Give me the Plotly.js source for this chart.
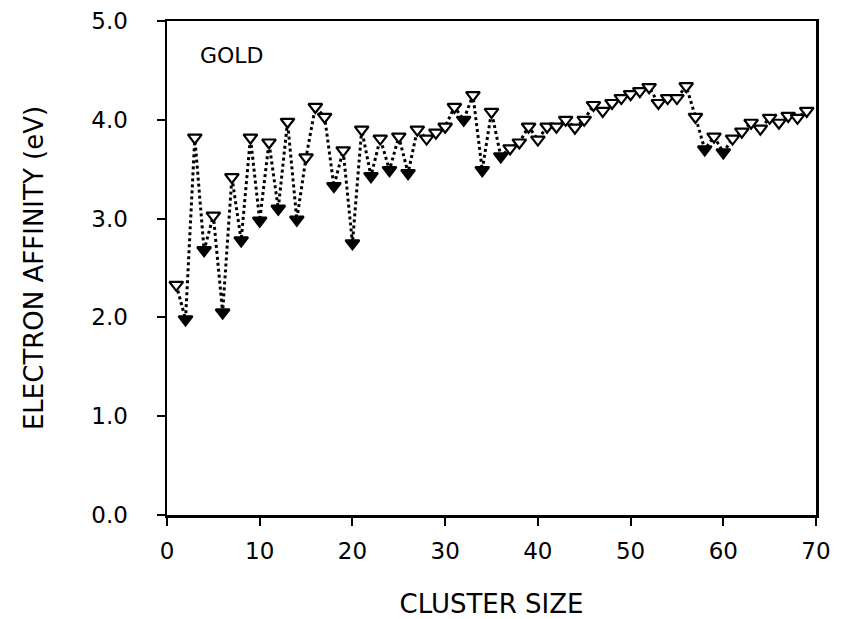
<!DOCTYPE html>
<html>
<head>
<meta charset="utf-8">
<script src="https://cdn.plot.ly/plotly-3.0.1.min.js"></script>
<style>
  html, body { margin: 0; padding: 0; background: #fff; }
  #chart { width: 842px; height: 619px; }
</style>
</head>
<body>
<div id="chart"></div>
<script>
// Cluster size n of Au_n
const clusterSize = [
  1, 2, 3, 4, 5, 6, 7, 8, 9, 10,
  11, 12, 13, 14, 15, 16, 17, 18, 19, 20,
  21, 22, 23, 24, 25, 26, 27, 28, 29, 30,
  31, 32, 33, 34, 35, 36, 37, 38, 39, 40,
  41, 42, 43, 44, 45, 46, 47, 48, 49, 50,
  51, 52, 53, 54, 55, 56, 57, 58, 59, 60,
  61, 62, 63, 64, 65, 66, 67, 68, 69
];

// Electron affinity (eV)
const electronAffinity = [
  2.33, 1.98, 3.82, 2.68, 3.03, 2.05, 3.42, 2.78, 3.82, 2.98,
  3.77, 3.10, 3.98, 2.99, 3.62, 4.13, 4.03, 3.33, 3.69, 2.75,
  3.90, 3.43, 3.81, 3.49, 3.83, 3.46, 3.90, 3.81, 3.87, 3.93,
  4.13, 4.00, 4.25, 3.49, 4.08, 3.63, 3.71, 3.77, 3.93, 3.80,
  3.93, 3.93, 4.00, 3.92, 4.00, 4.15, 4.09, 4.17, 4.22, 4.26,
  4.29, 4.33, 4.17, 4.22, 4.22, 4.34, 4.03, 3.70, 3.83, 3.67,
  3.81, 3.88, 3.97, 3.91, 4.02, 3.97, 4.04, 4.02, 4.09
];

// Sizes drawn with solid markers
const solidSizes = [2, 4, 6, 8, 10, 12, 14, 18, 20, 22, 24, 26, 32, 34, 36, 58, 60];

const xTickVals = [0, 10, 20, 30, 40, 50, 60, 70];
const yTickVals = [0, 1, 2, 3, 4, 5];
const yTickText = ['0.0', '1.0', '2.0', '3.0', '4.0', '5.0'];

const fontFamily = '"DejaVu Sans", "Liberation Sans", Arial, sans-serif';

const fillColors = clusterSize.map(n => solidSizes.includes(n) ? '#000' : '#fff');

const trace = {
  x: clusterSize,
  y: electronAffinity,
  type: 'scatter',
  mode: 'lines+markers',
  line: { color: '#000', width: 3, dash: 'dot' },
  marker: {
    symbol: 'triangle-down',
    size: 12,
    color: fillColors,
    line: { color: '#000', width: 2.2 }
  },
  hoverinfo: 'x+y'
};

const axisCommon = {
  showgrid: false,
  zeroline: false,
  showline: true,
  linecolor: '#000',
  linewidth: 2.5,
  mirror: true,
  ticks: 'outside',
  ticklen: 8,
  tickwidth: 2,
  tickcolor: '#000',
  tickfont: { family: fontFamily, size: 23, color: '#000' }
};

const layout = {
  width: 842,
  height: 619,
  margin: { l: 167, r: 26, t: 21, b: 104 },
  paper_bgcolor: '#fff',
  plot_bgcolor: '#fff',
  showlegend: false,
  xaxis: Object.assign({}, axisCommon, {
    range: [0, 70],
    tickvals: xTickVals,
    ticktext: xTickVals.map(String),
    ticklabelstandoff: 6,
    title: { text: 'CLUSTER SIZE', font: { family: fontFamily, size: 26, color: '#000' }, standoff: 32 }
  }),
  yaxis: Object.assign({}, axisCommon, {
    range: [0, 5],
    tickvals: yTickVals,
    ticktext: yTickText,
    ticklabelstandoff: 24,
    title: { text: 'ELECTRON AFFINITY (eV)', font: { family: fontFamily, size: 26, color: '#000' }, standoff: 40 }
  }),
  annotations: [{
    text: 'GOLD',
    xref: 'paper', yref: 'paper',
    x: 0.1, y: 0.93,
    xanchor: 'center', yanchor: 'middle',
    showarrow: false,
    font: { family: fontFamily, size: 22, color: '#000' }
  }]
};

Plotly.newPlot('chart', [trace], layout, { displayModeBar: false, staticPlot: true });
</script>
</body>
</html>
